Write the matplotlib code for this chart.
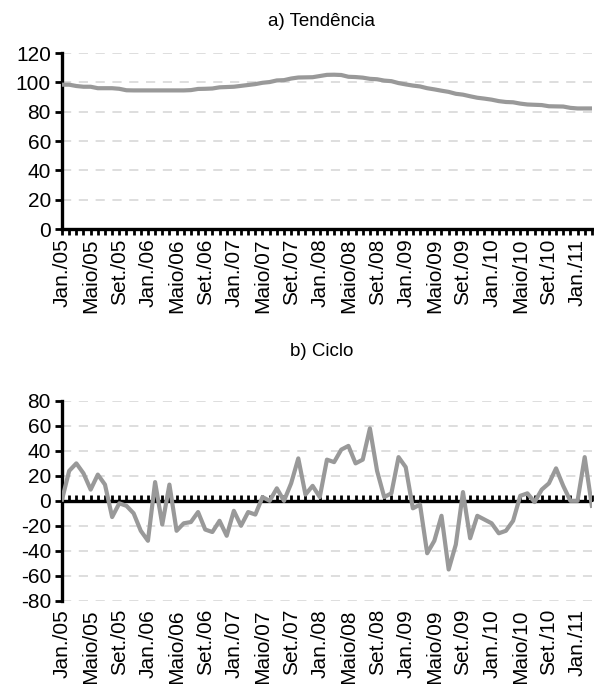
import matplotlib.pyplot as plt

# monthly series, Jan/2005 .. Mar/2011
trend = [98.4, 98.4, 97.5, 97.0, 97.0, 96.0, 96.0, 96.0, 95.6, 94.6,
         94.5, 94.5, 94.5, 94.5, 94.5, 94.5, 94.5, 94.5, 94.7, 95.5,
         95.6, 95.8, 96.6, 96.8, 97.0, 97.6, 98.2, 98.8, 99.7, 100.2,
         101.3, 101.5, 102.6, 103.3, 103.4, 103.5, 104.3, 105.1, 105.2, 105.0,
         103.8, 103.6, 103.2, 102.4, 102.1, 101.2, 100.8, 99.5, 98.6, 97.8,
         97.2, 96.0, 95.2, 94.3, 93.5, 92.2, 91.6, 90.5, 89.5, 88.9,
         88.2, 87.2, 86.6, 86.4, 85.5, 84.9, 84.7, 84.5, 83.7, 83.6,
         83.5, 82.6, 82.2, 82.2, 82.2]
cycle = [1, 24, 30, 22, 9, 21, 13, -13, -2, -4,
         -10, -24, -32, 15, -19, 13, -24, -18, -17, -9,
         -23, -25, -16, -28, -8, -20, -9, -11, 3, 0,
         10, 0, 14, 34, 5, 12, 3, 33, 31, 41,
         44, 30, 33, 58, 24, 3, 6, 35, 27, -6,
         -3, -42, -32, -12, -55, -35, 7, -30, -12, -15,
         -18, -26, -24, -16, 4, 6, -1, 9, 14, 26,
         12, 0, 0, 35, -4]
month_names = ['Jan.', 'Maio', 'Set.']
years = ['05', '06', '07', '08', '09', '10', '11']
titles = ['a) Tendência', 'b) Ciclo']

plt.rcParams['font.family'] = ['Liberation Sans', 'DejaVu Sans']
plt.rcParams['axes.unicode_minus'] = False
tick_size = 15
title_size = 13.5

n = len(trend)
x = list(range(n))
tick_labels = []
for i in x:
    if i % 4 == 0:
        tick_labels.append(f"{month_names[(i // 4) % 3]}/{years[i // 12]}")
    else:
        tick_labels.append('')

line_color = '#999999'
grid_color = '#d4d4d4'

fig = plt.figure(figsize=(5.94, 6.84), dpi=100)
ax1 = fig.add_axes([0.1044, 0.6652, 0.892, 0.2573])
ax2 = fig.add_axes([0.1044, 0.1218, 0.892, 0.292])


def style_axes(ax, yticks):
    for side in ('top', 'right'):
        ax.spines[side].set_visible(False)
    ax.spines['left'].set_linewidth(2.4)
    ax.set_xlim(0, n - 1)
    ax.set_ylim(yticks[0], yticks[-1])
    ax.set_yticks(yticks)
    ax.tick_params(axis='y', direction='out', length=5, width=2, pad=3,
                   labelsize=tick_size)
    for t in yticks:
        if t != 0:
            ax.axhline(t, color=grid_color, lw=1.1, ls=(0, (6, 5)), zorder=0)


# a) trend
style_axes(ax1, list(range(0, 121, 20)))
ax1.plot(x, trend, color=line_color, lw=3, solid_joinstyle='round', zorder=3)
ax1.spines['bottom'].set_linewidth(2.4)
ax1.set_xticks(x)
ax1.set_xticklabels(tick_labels, rotation=90)
ax1.tick_params(axis='x', direction='out', length=4, width=2, pad=3,
                labelsize=tick_size)
fig.text(0.542, 1 - 22 / 684, titles[0], ha='center', va='center',
         fontsize=title_size)

# b) cycle
style_axes(ax2, list(range(-80, 81, 20)))
ax2.spines['bottom'].set_visible(False)
ax2.set_xticks(x)
ax2.set_xticklabels(tick_labels, rotation=90)
ax2.tick_params(axis='x', length=0, pad=6, labelsize=tick_size)
ax2.axhline(0, color='black', lw=2.4, zorder=2)
zero_axis = ax2.secondary_xaxis(0.5)
zero_axis.spines['bottom'].set_visible(False)
zero_axis.set_xticks(x)
zero_axis.set_xticklabels([])
zero_axis.tick_params(axis='x', direction='out', length=4, width=2)
ax2.plot(x, cycle, color=line_color, lw=3, solid_joinstyle='round', zorder=3)
fig.text(0.542, 1 - 352 / 684, titles[1], ha='center', va='center',
         fontsize=title_size)

fig.savefig('out.png', dpi=100)
